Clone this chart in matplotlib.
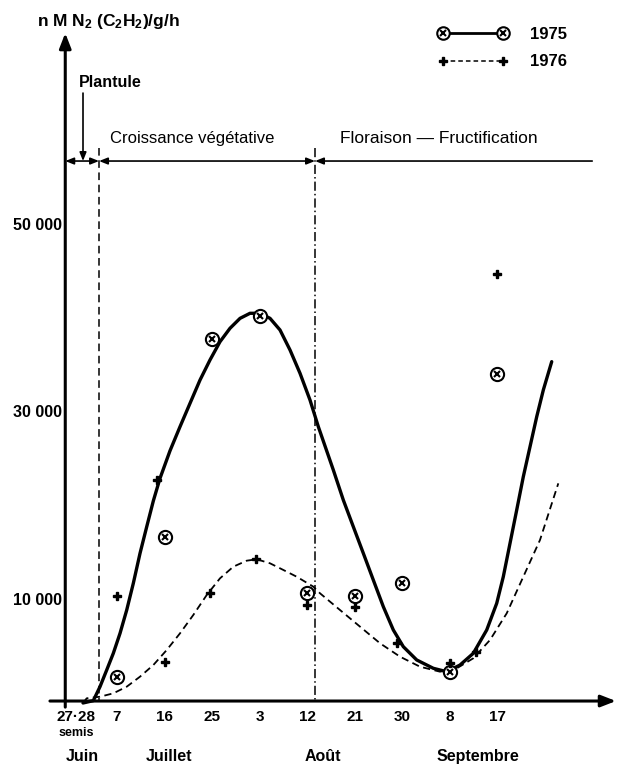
import matplotlib
matplotlib.use('Agg')
import matplotlib.pyplot as plt
from matplotlib.lines import Line2D
from matplotlib.legend_handler import HandlerTuple

# x = days counted from 27 June (semis), y = nM N2 (C2H2)/g/h
days_1975 = [10, 19, 28, 37, 46, 55, 64, 73, 82]
acet_1975 = [1800, 16700, 37900, 40300, 10800, 10500, 11800, 2300, 34100]

days_1976 = [10, 17.6, 19, 27.6, 36.3, 46, 55, 63, 73, 78, 82]
acet_1976 = [10500, 22800, 3400, 10800, 14400, 9500, 9300, 5400, 3300, 4500, 44800]

# hand drawn trend curves
curve_1975_x = [3.56, 5.51, 6.78, 8.05, 9.30, 10.57, 11.84, 13.09, 14.36, 15.63,
                16.88, 18.14, 20.04, 21.93, 23.83, 25.72, 27.61, 29.51, 31.40,
                33.30, 35.19, 37.08, 38.98, 40.87, 42.77, 44.66, 46.55, 48.13,
                50.97, 52.86, 54.75, 56.65, 58.54, 60.44, 62.33, 64.22,
                66.76, 69.91, 72.44, 74.96, 77.48, 80.02, 81.91, 83.16, 84.43,
                85.70, 86.95, 88.22, 89.49, 90.74, 92.33]
curve_1975_y = [-960, -710, 780, 2560, 4340, 6470, 8960, 11810, 15010, 17850,
                20600, 23000, 25950, 28510, 31010, 33490, 35630, 37580, 39010,
                40070, 40610, 40610, 40070, 38830, 36690, 34210, 31360, 28510,
                23890, 20690, 17850, 15010, 12160, 9310, 6830, 5050,
                3630, 2740, 2380, 3090, 4340, 6830, 9670, 12510, 16070,
                19630, 23180, 26380, 29580, 32430, 35450]

curve_1976_x = [3.62, 4.26, 6.78, 9.30, 11.84, 14.36, 16.88, 19.41, 21.93, 24.45,
                26.99, 29.51, 32.03, 34.56, 36.46, 38.98, 41.50, 44.03, 47.18,
                48.45, 52.23, 56.03, 59.81, 63.60, 67.39, 71.17, 74.34, 77.48,
                80.64, 83.81, 86.95, 90.11, 93.58]
curve_1976_y = [-930, -460, -290, 70, 780, 1850, 3090, 4690, 6470, 8430,
                10560, 12340, 13580, 14220, 14370, 13940, 13230, 12510, 11450,
                10740, 8960, 7180, 5410, 3980, 2910, 2380, 2740, 3810,
                5760, 8610, 12510, 16430, 22470]

y_ticks = [10000, 30000, 50000]
y_labels = ['10 000', '30 000', '50 000']
date_ticks = [2.2, 10, 19, 28, 37, 46, 55, 64, 73, 82]
date_labels = ['27\u00b728', '7', '16', '25', '3', '12', '21', '30', '8', '17']
months = ['Juin', 'Juillet', 'Ao\u00fbt', 'Septembre']
month_pos = [3.4, 19.9, 49.0, 78.4]

# phase limits (days)
plantule_end = 6.6
floraison_start = 47.5

plt.rcParams['font.family'] = ['Liberation Sans', 'DejaVu Sans']
plt.rcParams['mathtext.fontset'] = 'custom'
plt.rcParams['mathtext.rm'] = 'Liberation Sans:bold'
plt.rcParams['mathtext.bf'] = 'Liberation Sans:bold'
plt.rcParams['mathtext.default'] = 'bf'

fig = plt.figure(figsize=(6.22, 7.67), dpi=100)
ax = fig.add_axes([0, 0, 1, 1])
ax.set_xlim(-12.16, 105.64)
ax.set_ylim(-7787, 74027)
ax.axis('off')

# axes with arrows
ax.annotate('', xy=(104.5, -750), xytext=(-2.7, -750),
            arrowprops=dict(arrowstyle='-|>,head_length=0.9,head_width=0.35',
                            lw=2.2, color='k', shrinkA=0, shrinkB=0))
ax.annotate('', xy=(0.2, 70500), xytext=(0.2, -1400),
            arrowprops=dict(arrowstyle='-|>,head_length=0.9,head_width=0.35',
                            lw=2.2, color='k', shrinkA=0, shrinkB=0))

# phases
phase_y = 56850
ahead = dict(color='k', lw=1.2, shrinkA=0, shrinkB=0)
ax.annotate('', xy=(0.2, phase_y), xytext=(plantule_end, phase_y),
            arrowprops=dict(arrowstyle='<|-|>,head_length=0.5,head_width=0.2', **ahead))
ax.annotate('', xy=(plantule_end, phase_y), xytext=(floraison_start, phase_y),
            arrowprops=dict(arrowstyle='<|-|>,head_length=0.5,head_width=0.2', **ahead))
ax.annotate('', xy=(floraison_start, phase_y), xytext=(100, phase_y),
            arrowprops=dict(arrowstyle='-|>,head_length=0.5,head_width=0.2', **ahead))
ax.annotate('', xy=(3.56, phase_y), xytext=(3.56, 64100),
            arrowprops=dict(arrowstyle='-|>,head_length=0.5,head_width=0.2', **ahead))
ax.plot([plantule_end, plantule_end], [58200, -750], color='k', lw=1.1,
        ls=(0, (5, 3)))
ax.plot([floraison_start, floraison_start], [58200, -750], color='k', lw=1.1,
        ls=(0, (6, 2, 1, 2)))

ax.text(2.8, 65200, 'Plantule', fontsize=11.5, fontweight='bold', va='center')
ax.text(8.7, 59300, 'Croissance v\u00e9g\u00e9tative', fontsize=12, va='center')
ax.text(52.2, 59300, 'Floraison \u2014 Fructification', fontsize=12.5,
        va='center')
ax.text(-5.15, 71700, r'n M N$_2$ (C$_2$H$_2$)/g/h', fontsize=12.5,
        fontweight='bold', va='center')

# curves and points
ax.plot(curve_1975_x, curve_1975_y, color='k', lw=2.4, solid_capstyle='round',
        solid_joinstyle='round')
ax.plot(curve_1976_x, curve_1976_y, color='k', lw=1.3, ls=(0, (4, 2.5)))
ax.plot(days_1975, acet_1975, ls='none', marker='o', ms=9.5, mfc='white',
        mec='k', mew=1.5, zorder=4)
ax.plot(days_1975, acet_1975, ls='none', marker='x', ms=5, mew=1.5, color='k',
        zorder=5)
ax.plot(days_1976, acet_1976, ls='none', marker='P', ms=5.5, color='k', zorder=5)

# tick labels
for v, lab in zip(y_ticks, y_labels):
    ax.text(-0.42, v, lab, ha='right', va='center', fontsize=11.5,
            fontweight='bold')
for d, lab in zip(date_ticks, date_labels):
    ax.text(d, -2450, lab, ha='center', va='center', fontsize=11,
            fontweight='bold')
ax.text(2.2, -4160, 'semis', ha='center', va='center', fontsize=9,
        fontweight='bold')
for d, m in zip(month_pos, months):
    ax.text(d, -6720, m, ha='center', va='center', fontsize=11.5,
            fontweight='bold')

# legend
h75 = (Line2D([], [], color='k', lw=2.0, marker='o', ms=9, mfc='white',
              mec='k', mew=1.5),
       Line2D([], [], ls='none', marker='x', ms=5, mew=1.5, color='k'))
h76 = Line2D([], [], color='k', lw=1.1, ls=(0, (3, 2)), marker='P', ms=5.5)
ax.legend([h75, h76], ['1975', '1976'], numpoints=2,
          handler_map={tuple: HandlerTuple(ndivide=1)},
          loc='upper left', bbox_to_anchor=(438 / 622, 1 - 27 / 767),
          frameon=False, handlelength=4.2, handletextpad=1.3,
          labelspacing=0.75, borderpad=0, borderaxespad=0,
          prop={'weight': 'bold', 'size': 12})

fig.savefig('out.png', dpi=100)
